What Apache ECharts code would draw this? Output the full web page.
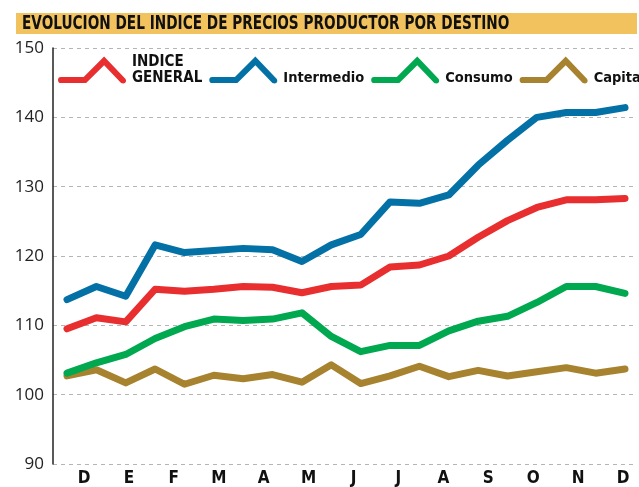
<!DOCTYPE html>
<html>
<head>
<meta charset="utf-8">
<script src="https://cdn.jsdelivr.net/npm/echarts@6/dist/echarts.min.js"></script>
<style>
html, body { margin: 0; padding: 0; background: #fff; }
#chart { width: 639px; height: 487px; }
</style>
</head>
<body>
<div id="chart"></div>
<script>
// etiquetas de meses del eje X
var meses = ['D', 'E', 'F', 'M', 'A', 'M', 'J', 'J', 'A', 'S', 'O', 'N', 'D'];
// observaciones (20 por serie)
var puntos = ['1', '2', '3', '4', '5', '6', '7', '8', '9', '10',
              '11', '12', '13', '14', '15', '16', '17', '18', '19', '20'];

var indiceGeneral = [109.5, 111.1, 110.5, 115.2, 114.9, 115.2, 115.6, 115.5, 114.7, 115.6,
                     115.8, 118.4, 118.7, 120.0, 122.7, 125.1, 127.0, 128.1, 128.1, 128.3];
var intermedio = [113.7, 115.6, 114.2, 121.6, 120.5, 120.8, 121.1, 120.9, 119.2, 121.6,
                  123.1, 127.8, 127.6, 128.8, 133.1, 136.7, 140.0, 140.7, 140.7, 141.4];
var consumo = [103.1, 104.6, 105.8, 108.1, 109.8, 110.9, 110.7, 110.9, 111.8, 108.4,
               106.2, 107.1, 107.1, 109.2, 110.6, 111.3, 113.3, 115.6, 115.6, 114.6];
var capital = [102.7, 103.6, 101.7, 103.7, 101.5, 102.8, 102.3, 102.9, 101.8, 104.3,
               101.6, 102.7, 104.1, 102.6, 103.5, 102.7, 103.3, 103.9, 103.1, 103.7];

var yMin = 90, yMax = 150, yPaso = 10;

var fuente = '"DejaVu Sans Condensed", "Liberation Sans Narrow", Roboto, sans-serif';
// icono de leyenda: linea gruesa con un pico
var icono = 'path://M3,21.8 L26.7,21.8 L48,0.5 L70.3,23.8 Q72,27.5 68,28.6 L65.7,28.2 L48,9.5 L29.3,28.2 L3,28.2 Q0,28.2 0,25 Q0,21.8 3,21.8 Z';

var myChart = echarts.init(document.getElementById('chart'));

function linea(nombre, datos, color, z) {
  return {
    name: nombre,
    type: 'line',
    xAxisIndex: 1,
    yAxisIndex: 1,
    data: datos,
    symbol: 'none',
    z: z,
    itemStyle: { color: color },
    lineStyle: { color: color, width: 7, cap: 'round', join: 'round' }
  };
}

myChart.setOption({
  animation: false,
  graphic: [{
    type: 'rect',
    z: 0,
    shape: { x: 16, y: 13, width: 621, height: 21 },
    style: { fill: '#f2c25f' }
  }, {
    // titulo, comprimido en horizontal como la tipografia original
    type: 'text',
    z: 1,
    x: 22,
    y: 24,
    scaleX: 0.8,
    style: {
      text: 'EVOLUCION DEL INDICE DE PRECIOS PRODUCTOR POR DESTINO',
      fontFamily: fuente, fontWeight: 'bold', fontSize: 19,
      fill: '#111', verticalAlign: 'middle', align: 'left'
    }
  }],
  legend: {
    left: 58,
    top: 54,
    width: 900,
    padding: 0,
    itemWidth: 70,
    itemHeight: 27,
    itemGap: 7,
    data: [
      { name: 'INDICE GENERAL', icon: icono },
      { name: 'Intermedio', icon: icono },
      { name: 'Consumo', icon: icono },
      { name: 'Capital', icon: icono }
    ],
    formatter: function (name) {
      if (name === 'INDICE GENERAL') return '{d|INDICE}\n{d|GENERAL}';
      return '{s|' + name + '}';
    },
    textStyle: {
      rich: {
        d: { fontFamily: fuente, fontWeight: 'bold', fontSize: 15, lineHeight: 16, color: '#111' },
        s: { fontFamily: fuente, fontWeight: 'bold', fontSize: 14.5, lineHeight: 17, color: '#111', padding: [17, 0, 0, 0] }
      }
    }
  },
  grid: [
    { left: 53, right: 3, top: 48, bottom: 23 },   // marco y rejilla
    { left: 67, right: 14, top: 48, bottom: 23 },  // datos
    { left: 84, right: 16, top: 48, bottom: 23 }   // etiquetas de meses
  ],
  xAxis: [
    { gridIndex: 0, type: 'value', min: 0, max: 1, show: false },
    { gridIndex: 1, type: 'category', data: puntos, boundaryGap: false, show: false },
    {
      gridIndex: 2, type: 'category', data: meses, boundaryGap: false,
      axisLine: { show: false }, axisTick: { show: false },
      axisLabel: { interval: 0, margin: 8, fontFamily: fuente, fontWeight: 'bold', fontSize: 17, color: '#111' }
    }
  ],
  yAxis: [
    {
      gridIndex: 0, type: 'value', min: yMin, max: yMax, interval: yPaso,
      axisLine: { show: true, lineStyle: { color: '#222', width: 1.5 } },
      axisTick: { show: false },
      axisLabel: { margin: 9, padding: [10, 0, 0, 0], fontFamily: 'Open Sans', fontSize: 17, color: '#222' },
      splitLine: { show: true, lineStyle: { color: '#b5b5b5', width: 1, type: [4, 4] } }
    },
    { gridIndex: 1, type: 'value', min: yMin, max: yMax, show: false, splitLine: { show: false } },
    { gridIndex: 2, type: 'value', min: yMin, max: yMax, show: false, splitLine: { show: false } }
  ],
  series: [
    linea('INDICE GENERAL', indiceGeneral, '#e92e30', 4),
    linea('Intermedio', intermedio, '#0471a6', 4),
    linea('Consumo', consumo, '#00a84f', 3),
    linea('Capital', capital, '#a8832f', 2)
  ]
});
</script>
</body>
</html>
